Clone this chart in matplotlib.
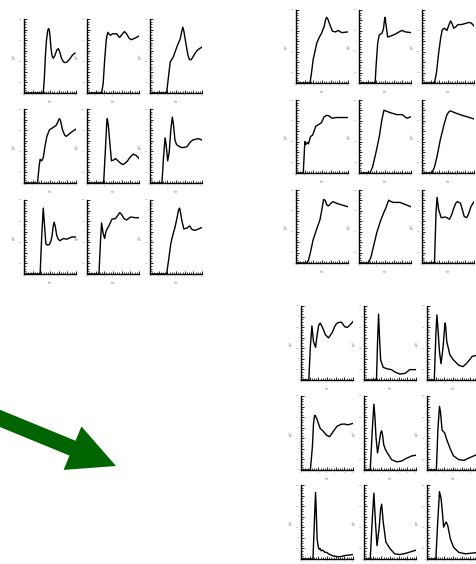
import matplotlib

matplotlib.use("Agg")

import matplotlib.pyplot as plt
from matplotlib.patches import FancyArrow

# curve samples, x and y as fractions of each small panel's range
A00_x = [0, 0.37, 0.39, 0.41, 0.43, 0.455, 0.47, 0.485, 0.50, 0.52, 0.54, 0.565, 0.59, 0.63, 0.66, 0.69, 0.72, 0.76, 0.79, 0.83, 0.88, 0.93, 0.98]
A00_y = [0, 0, 0.18, 0.48, 0.70, 0.84, 0.87, 0.86, 0.77, 0.60, 0.50, 0.47, 0.50, 0.58, 0.60, 0.55, 0.47, 0.42, 0.41, 0.42, 0.46, 0.51, 0.54]
A01_x = [0, 0.28, 0.31, 0.34, 0.37, 0.40, 0.42, 0.45, 0.49, 0.52, 0.57, 0.60, 0.63, 0.67, 0.72, 0.76, 0.81, 0.85, 0.92, 1.0]
A01_y = [0, 0, 0.12, 0.45, 0.72, 0.82, 0.80, 0.78, 0.80, 0.80, 0.80, 0.77, 0.75, 0.79, 0.83, 0.80, 0.74, 0.72, 0.74, 0.77]
A02_x = [0, 0.32, 0.36, 0.39, 0.45, 0.52, 0.58, 0.61, 0.63, 0.65, 0.70, 0.73, 0.76, 0.79, 0.82, 0.86, 0.90, 0.95, 1.0]
A02_y = [0, 0, 0.25, 0.42, 0.49, 0.63, 0.73, 0.83, 0.89, 0.84, 0.63, 0.51, 0.45, 0.45, 0.48, 0.53, 0.57, 0.60, 0.62]
A10_x = [0, 0.26, 0.29, 0.31, 0.34, 0.37, 0.40, 0.44, 0.49, 0.56, 0.62, 0.66, 0.68, 0.70, 0.74, 0.78, 0.81, 0.85, 0.90, 1.0]
A10_y = [0, 0, 0.22, 0.32, 0.30, 0.34, 0.48, 0.63, 0.72, 0.75, 0.78, 0.84, 0.87, 0.85, 0.72, 0.65, 0.63, 0.65, 0.68, 0.73]
A11_x = [0, 0.32, 0.35, 0.38, 0.39, 0.41, 0.44, 0.47, 0.51, 0.55, 0.61, 0.66, 0.70, 0.77, 0.83, 0.89, 0.95, 1.0]
A11_y = [0, 0, 0.40, 0.82, 0.87, 0.78, 0.54, 0.30, 0.31, 0.33, 0.29, 0.26, 0.25, 0.29, 0.35, 0.39, 0.37, 0.33]
A12_x = [0, 0.23, 0.26, 0.29, 0.31, 0.34, 0.37, 0.40, 0.43, 0.45, 0.48, 0.51, 0.55, 0.60, 0.65, 0.71, 0.77, 0.82, 0.87, 0.93, 1.0]
A12_y = [0, 0, 0.35, 0.61, 0.52, 0.30, 0.42, 0.72, 0.89, 0.80, 0.58, 0.52, 0.50, 0.48, 0.48, 0.49, 0.55, 0.58, 0.59, 0.60, 0.58]
A20_x = [0, 0.31, 0.34, 0.37, 0.39, 0.42, 0.45, 0.49, 0.52, 0.54, 0.565, 0.58, 0.60, 0.63, 0.66, 0.69, 0.76, 0.82, 0.92, 1.0]
A20_y = [0, 0, 0.50, 0.89, 0.70, 0.41, 0.39, 0.40, 0.45, 0.52, 0.66, 0.70, 0.65, 0.52, 0.47, 0.45, 0.48, 0.47, 0.50, 0.50]
A21_x = [0, 0.23, 0.26, 0.28, 0.31, 0.34, 0.36, 0.38, 0.42, 0.48, 0.55, 0.59, 0.63, 0.67, 0.71, 0.76, 0.84, 0.94, 1.0]
A21_y = [0, 0, 0.45, 0.69, 0.55, 0.48, 0.56, 0.60, 0.65, 0.74, 0.75, 0.79, 0.83, 0.80, 0.75, 0.73, 0.77, 0.76, 0.76]
A22_x = [0, 0.32, 0.36, 0.40, 0.44, 0.48, 0.52, 0.55, 0.57, 0.59, 0.61, 0.65, 0.71, 0.76, 0.81, 0.87, 0.94, 1.0]
A22_y = [0, 0, 0.20, 0.41, 0.53, 0.63, 0.76, 0.87, 0.89, 0.82, 0.73, 0.61, 0.62, 0.65, 0.60, 0.59, 0.61, 0.63]

B00_x = [0, 0.27, 0.30, 0.33, 0.37, 0.40, 0.45, 0.49, 0.54, 0.57, 0.59, 0.61, 0.64, 0.70, 0.76, 0.81, 0.88, 1.0]
B00_y = [0, 0, 0.15, 0.32, 0.45, 0.55, 0.63, 0.68, 0.77, 0.87, 0.90, 0.88, 0.82, 0.71, 0.70, 0.72, 0.69, 0.70]
B01_x = [0, 0.31, 0.33, 0.36, 0.39, 0.44, 0.47, 0.49, 0.50, 0.52, 0.55, 0.60, 0.70, 0.77, 0.83, 0.89, 1.0]
B01_y = [0, 0, 0.25, 0.55, 0.66, 0.68, 0.74, 0.86, 0.90, 0.80, 0.63, 0.64, 0.67, 0.70, 0.72, 0.70, 0.69]
B02_x = [0, 0.24, 0.28, 0.32, 0.36, 0.39, 0.43, 0.48, 0.52, 0.55, 0.58, 0.61, 0.65, 0.69, 0.75, 0.81, 0.90, 0.95, 1.0]
B02_y = [0, 0, 0.15, 0.41, 0.62, 0.73, 0.75, 0.72, 0.80, 0.85, 0.81, 0.75, 0.77, 0.80, 0.80, 0.81, 0.83, 0.82, 0.78]
B10_x = [0, 0.14, 0.17, 0.19, 0.22, 0.24, 0.28, 0.32, 0.38, 0.45, 0.49, 0.54, 0.59, 0.64, 0.69, 0.78, 0.88, 1.0]
B10_y = [0, 0, 0.43, 0.39, 0.42, 0.40, 0.50, 0.52, 0.64, 0.67, 0.69, 0.77, 0.79, 0.78, 0.75, 0.76, 0.76, 0.76]
B11_x = [0, 0.21, 0.26, 0.31, 0.35, 0.39, 0.44, 0.48, 0.55, 0.63, 0.73, 0.83, 0.92, 1.0]
B11_y = [0, 0, 0.08, 0.23, 0.36, 0.50, 0.73, 0.86, 0.84, 0.82, 0.80, 0.80, 0.75, 0.77]
B12_x = [0, 0.19, 0.24, 0.29, 0.35, 0.43, 0.48, 0.52, 0.55, 0.65, 0.77, 0.87, 1.0]
B12_y = [0, 0, 0.08, 0.23, 0.45, 0.68, 0.80, 0.84, 0.85, 0.82, 0.79, 0.77, 0.74]
B20_x = [0, 0.21, 0.24, 0.27, 0.33, 0.41, 0.46, 0.50, 0.53, 0.56, 0.59, 0.62, 0.66, 0.71, 0.81, 1.0]
B20_y = [0, 0, 0.04, 0.12, 0.32, 0.49, 0.59, 0.74, 0.87, 0.86, 0.80, 0.78, 0.81, 0.84, 0.81, 0.77]
B21_x = [0, 0.18, 0.23, 0.28, 0.34, 0.41, 0.47, 0.52, 0.57, 0.62, 0.66, 0.79, 1.0]
B21_y = [0, 0, 0.08, 0.23, 0.41, 0.57, 0.68, 0.76, 0.86, 0.84, 0.83, 0.83, 0.77]
B22_x = [0, 0.24, 0.27, 0.29, 0.32, 0.37, 0.45, 0.53, 0.57, 0.61, 0.65, 0.68, 0.74, 0.78, 0.81, 0.86, 0.90, 0.94, 1.0]
B22_y = [0, 0, 0.70, 0.90, 0.73, 0.62, 0.63, 0.60, 0.66, 0.75, 0.82, 0.84, 0.82, 0.72, 0.64, 0.62, 0.68, 0.77, 0.84]

C00_x = [0, 0.15, 0.18, 0.21, 0.24, 0.28, 0.31, 0.34, 0.37, 0.42, 0.47, 0.53, 0.60, 0.64, 0.68, 0.73, 0.78, 0.84, 0.89, 0.95, 1.0]
C00_y = [0, 0, 0.45, 0.73, 0.52, 0.44, 0.61, 0.74, 0.77, 0.70, 0.61, 0.57, 0.64, 0.71, 0.76, 0.78, 0.78, 0.72, 0.71, 0.75, 0.79]
C01_x = [0, 0.24, 0.26, 0.28, 0.30, 0.32, 0.37, 0.45, 0.53, 0.59, 0.69, 0.79, 0.88, 1.0]
C01_y = [0, 0, 0.50, 0.89, 0.55, 0.27, 0.17, 0.15, 0.14, 0.11, 0.08, 0.09, 0.14, 0.14]
C02_x = [0, 0.14, 0.17, 0.19, 0.21, 0.24, 0.27, 0.31, 0.34, 0.35, 0.36, 0.38, 0.44, 0.51, 0.61, 0.69, 0.77, 0.87, 1.0]
C02_y = [0, 0, 0.60, 0.88, 0.70, 0.38, 0.22, 0.45, 0.72, 0.77, 0.72, 0.52, 0.34, 0.27, 0.20, 0.18, 0.23, 0.32, 0.34]
C10_x = [0, 0.18, 0.22, 0.24, 0.26, 0.28, 0.31, 0.37, 0.42, 0.49, 0.55, 0.62, 0.69, 0.78, 0.85, 0.90, 1.0]
C10_y = [0, 0, 0.32, 0.62, 0.74, 0.73, 0.68, 0.56, 0.53, 0.47, 0.45, 0.52, 0.59, 0.62, 0.62, 0.61, 0.63]
C11_x = [0, 0.12, 0.16, 0.19, 0.21, 0.23, 0.26, 0.29, 0.32, 0.34, 0.36, 0.38, 0.41, 0.45, 0.53, 0.63, 0.72, 0.82, 0.92, 1.0]
C11_y = [0, 0, 0.55, 0.89, 0.72, 0.45, 0.23, 0.36, 0.50, 0.53, 0.46, 0.34, 0.28, 0.23, 0.14, 0.11, 0.12, 0.16, 0.19, 0.20]
C12_x = [0, 0.18, 0.21, 0.24, 0.26, 0.29, 0.34, 0.38, 0.45, 0.51, 0.61, 0.71, 0.80, 0.93, 1.0]
C12_y = [0, 0, 0.55, 0.86, 0.78, 0.54, 0.50, 0.41, 0.28, 0.19, 0.14, 0.13, 0.16, 0.20, 0.22]
C20_x = [0, 0.23, 0.26, 0.28, 0.30, 0.31, 0.33, 0.35, 0.37, 0.39, 0.42, 0.46, 0.49, 0.53, 0.62, 0.74, 0.87, 1.0]
C20_y = [0, 0, 0.55, 0.90, 0.50, 0.27, 0.17, 0.13, 0.14, 0.11, 0.12, 0.09, 0.09, 0.07, 0.04, 0.03, 0.05, 0.06]
C21_x = [0, 0.12, 0.16, 0.19, 0.22, 0.25, 0.29, 0.32, 0.34, 0.37, 0.42, 0.50, 0.59, 0.69, 0.82, 1.0]
C21_y = [0, 0, 0.55, 0.89, 0.50, 0.18, 0.41, 0.68, 0.74, 0.50, 0.23, 0.14, 0.07, 0.06, 0.08, 0.12]
C22_x = [0, 0.17, 0.21, 0.24, 0.27, 0.29, 0.32, 0.35, 0.37, 0.40, 0.45, 0.51, 0.61, 0.74, 0.87, 1.0]
C22_y = [0, 0, 0.55, 0.91, 0.82, 0.68, 0.43, 0.48, 0.50, 0.45, 0.27, 0.16, 0.09, 0.07, 0.08, 0.09]

group_a = [[(A00_x, A00_y), (A01_x, A01_y), (A02_x, A02_y)],
           [(A10_x, A10_y), (A11_x, A11_y), (A12_x, A12_y)],
           [(A20_x, A20_y), (A21_x, A21_y), (A22_x, A22_y)]]
group_b = [[(B00_x, B00_y), (B01_x, B01_y), (B02_x, B02_y)],
           [(B10_x, B10_y), (B11_x, B11_y), (B12_x, B12_y)],
           [(B20_x, B20_y), (B21_x, B21_y), (B22_x, B22_y)]]
group_c = [[(C00_x, C00_y), (C01_x, C01_y), (C02_x, C02_y)],
           [(C10_x, C10_y), (C11_x, C11_y), (C12_x, C12_y)],
           [(C20_x, C20_y), (C21_x, C21_y), (C22_x, C22_y)]]

x_ticks = [0, 1 / 6, 2 / 6, 3 / 6, 4 / 6, 5 / 6, 1]
x_tick_labels = ["0", "1", "2", "3", "4", "5", "6"]
y_ticks = [0, 1 / 7, 2 / 7, 3 / 7, 4 / 7, 5 / 7, 6 / 7, 1]
y_tick_labels = ["0", "0.5", "1", "1.5", "2", "2.5", "3", "3.5"]

W, H = 476, 564
fig = plt.figure(figsize=(W / 100, H / 100), dpi=100)


def px_axes(left, top, width, height):
    return fig.add_axes([left / W, 1 - (top + height) / H, width / W, height / H])


def draw_panel(ax, xs, ys):
    ax.plot(xs, ys, color="black", lw=1.0)
    ax.set_xlim(0, 1)
    ax.set_ylim(0, 1)
    for side in ("top", "right"):
        ax.spines[side].set_visible(False)
    for side in ("left", "bottom"):
        ax.spines[side].set_linewidth(1.0)
    ax.set_xticks(x_ticks)
    ax.set_xticklabels(x_tick_labels)
    ax.set_yticks(y_ticks)
    ax.set_yticklabels(y_tick_labels)
    ax.minorticks_on()
    ax.tick_params(which="major", direction="in", length=2.5, width=0.6, labelsize=1.6,
                   labelcolor="#888888", pad=1.5)
    ax.tick_params(which="minor", direction="in", length=1.5, width=0.5)
    ax.set_xlabel("r/σ", fontsize=2.2, color="#777777", labelpad=1.5)
    ax.set_ylabel("g(r)", fontsize=2.2, color="#777777", labelpad=2)


def draw_group(panels, lefts, tops, width, height):
    for r, row in enumerate(panels):
        for c, (xs, ys) in enumerate(row):
            ax = px_axes(lefts[c], tops[r], width, height)
            draw_panel(ax, xs, ys)


draw_group(group_a, [24, 87, 150], [19, 109, 200], 52, 74)
draw_group(group_b, [296, 359, 422], [10, 100, 190], 52, 73)
draw_group(group_c, [301, 364, 427], [306, 396, 485], 52, 74)

# green arrow overlay in pixel space
over = fig.add_axes([0, 0, 1, 1])
over.set_xlim(0, W)
over.set_ylim(H, 0)
over.axis("off")
over.add_patch(FancyArrow(-20, 410.2, 136, 55.8, width=16, head_width=47, head_length=47,
                          length_includes_head=True, color="#006400", lw=0))

fig.savefig("out.png", dpi=100)
